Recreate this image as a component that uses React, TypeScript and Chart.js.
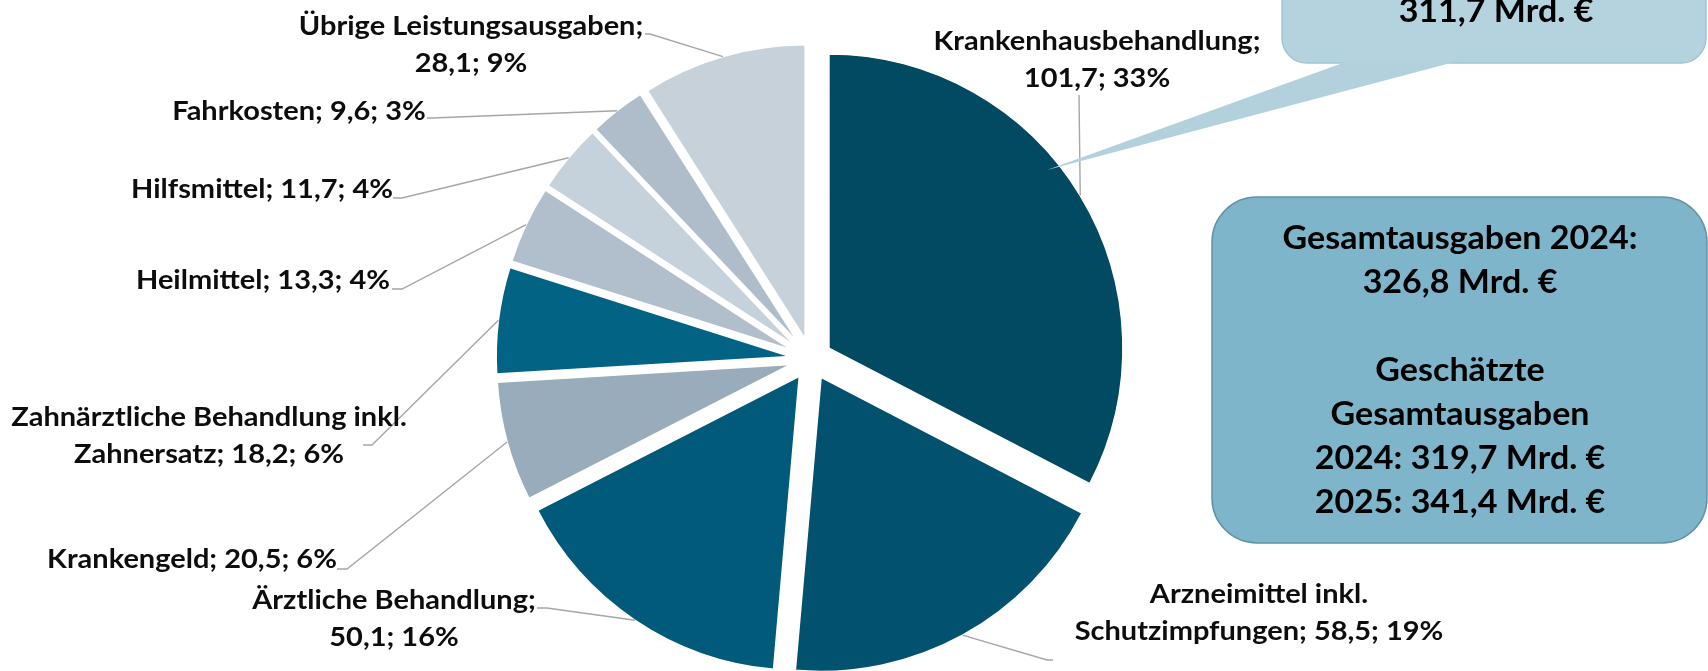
import { useEffect, useRef } from "react";
import { Chart, PieController, ArcElement } from "chart.js";

// ---------- data ----------
const categories = [
  "Krankenhausbehandlung",
  "Arzneimittel inkl.\nSchutzimpfungen",
  "Ärztliche Behandlung",
  "Krankengeld",
  "Zahnärztliche Behandlung inkl.\nZahnersatz",
  "Heilmittel",
  "Hilfsmittel",
  "Fahrkosten",
  "Übrige Leistungsausgaben",
];
const values = [101.7, 58.5, 50.1, 20.5, 18.2, 13.3, 11.7, 9.6, 28.1];
const percents = ["33%", "19%", "16%", "6%", "6%", "4%", "4%", "3%", "9%"];
const bubbleText = ["311,7 Mrd. €"];
const boxLines = [
  "Gesamtausgaben 2024:",
  "326,8 Mrd. €",
  "",
  "Geschätzte",
  "Gesamtausgaben",
  "2024: 319,7 Mrd. €",
  "2025: 341,4 Mrd. €",
];

// ---------- styles / layout ----------
const sliceColors = [
  "#024A62",
  "#02526F",
  "#025A7A",
  "#98ACBC",
  "#026385",
  "#B1BFCC",
  "#C5D1DB",
  "#AFBDCA",
  "#C6D1DA",
];
const EXPLODE = 21;
const LABEL_FONT = "bold 27px Lato, 'Open Sans', sans-serif";
const BOX_FONT = "bold 32px Lato, 'Open Sans', sans-serif";
const LINE_H = 37;
const BOX_LINE_H = 44;
const LEADER_COLOR = "#A6A6A6";

type LabelLayout = { x: number; y: number; breakAfterName: boolean; leader: number[][] };
const labelLayout: LabelLayout[] = [
  { x: 1097, y: 50, breakAfterName: true, leader: [[1079, 95]] },
  { x: 1259, y: 603, breakAfterName: false, leader: [[1047, 660], [1053, 660]] },
  { x: 394, y: 609, breakAfterName: true, leader: [[547, 608], [537, 608]] },
  { x: 192, y: 568, breakAfterName: false, leader: [[347, 569], [337, 569]] },
  { x: 209, y: 426, breakAfterName: false, leader: [[372, 445], [363, 445]] },
  { x: 263, y: 289, breakAfterName: false, leader: [[402, 289], [392, 289]] },
  { x: 262, y: 198, breakAfterName: false, leader: [[402, 198], [393, 198]] },
  { x: 299, y: 120, breakAfterName: false, leader: [[432, 118], [427, 118]] },
  { x: 471, y: 35, breakAfterName: true, leader: [[650, 34], [645, 34]] },
];

const fmt = (v: number) => v.toFixed(1).replace(".", ",");
const labelText = (i: number) =>
  `${categories[i]};${labelLayout[i].breakAfterName ? "\n" : " "}${fmt(values[i])}; ${percents[i]}`;

// ---------- exploded pie (every slice pulled out along its mid angle) ----------
class ExplodedArc extends ArcElement {
  static id = "explodedArc";
  draw(ctx: CanvasRenderingContext2D) {
    const mid = ((this as any).startAngle + (this as any).endAngle) / 2;
    ctx.save();
    ctx.translate(Math.cos(mid) * EXPLODE, Math.sin(mid) * EXPLODE);
    super.draw(ctx);
    ctx.restore();
  }
}
class ExplodedPieController extends PieController {
  static id = "explodedPie";
  static defaults = { dataElementType: "explodedArc" };
}
Chart.register(ExplodedArc, ExplodedPieController);

function drawScaledText(
  ctx: CanvasRenderingContext2D,
  text: string,
  cx: number,
  y: number,
  sx: number
) {
  ctx.save();
  ctx.translate(cx, y);
  ctx.scale(sx, 1);
  ctx.textAlign = "center";
  ctx.textBaseline = "alphabetic";
  ctx.fillText(text, 0, 0);
  ctx.restore();
}

const annotationsPlugin = {
  id: "annotations",
  afterDraw(chart: any) {
    const ctx: CanvasRenderingContext2D = chart.ctx;
    const meta = chart.getDatasetMeta(0);
    ctx.save();

    // leader lines
    meta.data.forEach((el: any, i: number) => {
      const p = el.getProps(["x", "y", "startAngle", "endAngle", "outerRadius"], true);
      const mid = (p.startAngle + p.endAngle) / 2;
      const ax = p.x + Math.cos(mid) * EXPLODE;
      const ay = p.y + Math.sin(mid) * EXPLODE;
      const sx = ax + Math.cos(mid) * p.outerRadius;
      const sy = ay + Math.sin(mid) * p.outerRadius;
      ctx.beginPath();
      ctx.moveTo(sx, sy);
      labelLayout[i].leader.forEach(([x, y]) => ctx.lineTo(x, y));
      ctx.strokeStyle = LEADER_COLOR;
      ctx.lineWidth = 1.4;
      ctx.stroke();
    });

    // data labels
    ctx.font = LABEL_FONT;
    const labelScale = 327 / ctx.measureText("Krankenhausbehandlung;").width;
    ctx.fillStyle = "#0D0D0D";
    values.forEach((_, i) => {
      const lay = labelLayout[i];
      labelText(i)
        .split("\n")
        .forEach((line, k) => drawScaledText(ctx, line, lay.x, lay.y + k * LINE_H, labelScale));
    });

    // speech bubble (top right, partly outside the picture)
    ctx.fillStyle = "#B5D3DE";
    ctx.strokeStyle = "#9FC5D4";
    ctx.lineWidth = 1.5;
    ctx.beginPath();
    ctx.roundRect(1282, -70, 424, 133, 25);
    ctx.fill();
    ctx.stroke();
    ctx.beginPath();
    ctx.moveTo(1351, 60);
    ctx.lineTo(1047, 170);
    ctx.lineTo(1462, 60);
    ctx.closePath();
    ctx.fillStyle = "#B2D1DC";
    ctx.fill();

    ctx.font = BOX_FONT;
    const boxScale = 355 / ctx.measureText("Gesamtausgaben 2024:").width;
    ctx.fillStyle = "#000000";
    bubbleText.forEach((t, k) => drawScaledText(ctx, t, 1496, 22 - (bubbleText.length - 1 - k) * BOX_LINE_H, boxScale));

    // info box
    ctx.fillStyle = "#7FB5CA";
    ctx.strokeStyle = "#5F93A8";
    ctx.lineWidth = 1.5;
    ctx.beginPath();
    ctx.roundRect(1212, 197, 495, 346, 45);
    ctx.fill();
    ctx.stroke();
    ctx.fillStyle = "#000000";
    boxLines.forEach((t, k) => {
      if (t) drawScaledText(ctx, t, 1460, 249 + k * BOX_LINE_H, boxScale);
    });

    ctx.restore();
  },
};

export default function App() {
  const ref = useRef<HTMLCanvasElement>(null);
  useEffect(() => {
    document.body.style.margin = "0";
    const canvas = ref.current!;
    const chart = new Chart(canvas, {
      type: "explodedPie" as any,
      data: {
        labels: categories.map((c) => c.replace("\n", " ")),
        datasets: [
          {
            data: values,
            backgroundColor: sliceColors,
            borderColor: "#ffffff",
            borderWidth: 1.5,
          },
        ],
      },
      options: {
        responsive: false,
        animation: false,
        radius: 294,
        events: [],
        layout: { padding: { left: 0, right: 86, top: 47, bottom: 0 } },
        plugins: { legend: { display: false }, tooltip: { enabled: false } },
      } as any,
      plugins: [annotationsPlugin],
    });
    const fonts: any = (document as any).fonts;
    if (fonts && fonts.load) {
      Promise.all([fonts.load(LABEL_FONT), fonts.load(BOX_FONT)]).then(() => {
        try {
          chart.draw();
        } catch (e) {
          /* chart destroyed */
        }
      });
    }
    return () => chart.destroy();
  }, []);
  return (
    <div style={{ position: "absolute", left: 0, top: 0, width: 1708, height: 671, background: "#fff" }}>
      <canvas ref={ref} width={1708} height={671} style={{ display: "block" }} />
    </div>
  );
}
